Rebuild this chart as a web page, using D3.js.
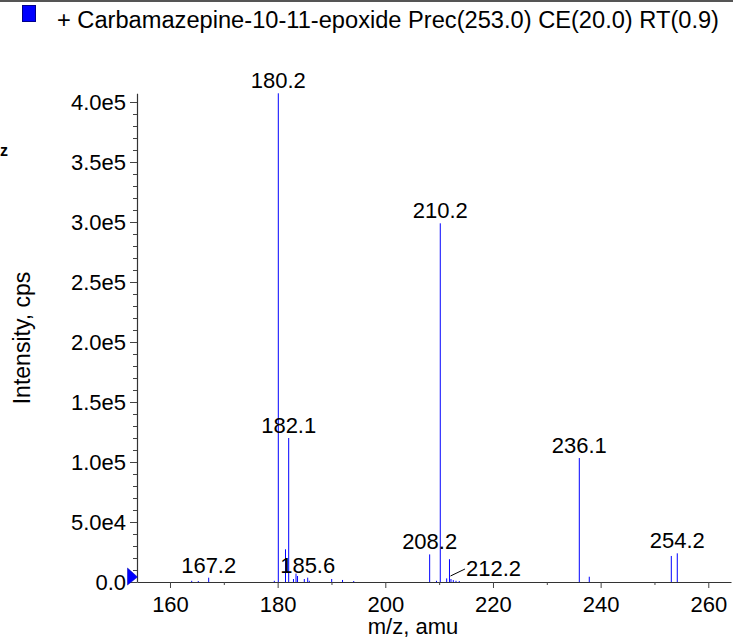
<!DOCTYPE html>
<html>
<head>
<meta charset="utf-8">
<script src="https://cdn.jsdelivr.net/npm/d3@7"></script>
<style>
  html, body { margin: 0; padding: 0; background: #fff; }
  text { font-family: "Liberation Sans", Arial, Helvetica, sans-serif; }
</style>
</head>
<body>
<script>
// ---- data ----
const titleText = "+ Carbamazepine-10-11-epoxide Prec(253.0) CE(20.0) RT(0.9)";
const xLabelText = "m/z, amu";
const yLabelText = "Intensity, cps";

const peakMz = [164.03, 165.26, 167.19, 179.38, 180.12, 181.46, 182.05, 182.94, 183.41, 183.69,
  184.95, 185.58, 185.88, 190.04, 192.05, 194.13, 208.24, 209.51, 210.21, 211.40,
  211.92, 212.20, 212.63, 213.13, 213.74, 236.04, 237.89, 253.13, 254.24];
const peakIntensity = [1000, 800, 3600, 1000, 407250, 27250, 120000, 2500, 7000, 5000,
  2500, 3600, 1000, 2500, 1700, 800, 23000, 1000, 298900, 3000,
  19000, 2500, 1600, 1000, 800, 103300, 4400, 21700, 23900];

const labelText = ["180.2", "210.2", "182.1", "236.1", "208.2", "254.2", "185.6", "167.2"];
const labelMz = [180.12, 210.21, 182.05, 236.04, 208.24, 254.24, 185.58, 167.19];
const leaderLabelText = "212.2";
const leaderLabelMz = 212.20;

const xTickValues = [160, 180, 200, 220, 240, 260];
const xTickLabels = ["160", "180", "200", "220", "240", "260"];
const xMinorTicks = [170, 190, 210, 230, 250];
const yTickValues = [0, 50000, 100000, 150000, 200000, 250000, 300000, 350000, 400000];
const yTickLabels = ["0.0", "5.0e4", "1.0e5", "1.5e5", "2.0e5", "2.5e5", "3.0e5", "3.5e5", "4.0e5"];
const yMinorTicks = d3.range(10000, 400001, 10000).filter(v => v % 50000 !== 0);

// ---- layout ----
const W = 733, H = 639;
const plot = { left: 137, right: 731, top: 93.3, bottom: 582 };
const FS = 22;

const svg = d3.select("body").append("svg").attr("width", W).attr("height", H);

const x = d3.scaleLinear().domain([153.87, 264.22]).range([plot.left, plot.right]);
const y = d3.scaleLinear().domain([0, d3.max(peakIntensity)]).range([plot.bottom, plot.top]);

// top border line
svg.append("line").attr("x1", 0).attr("x2", W).attr("y1", 1).attr("y2", 1)
  .attr("stroke", "#555").attr("stroke-width", 2);

// legend
svg.append("rect").attr("x", 22.5).attr("y", 5.5).attr("width", 13).attr("height", 16)
  .attr("fill", "#0000ff").attr("stroke", "#00008a").attr("stroke-width", 1);
svg.append("text").attr("x", 57).attr("y", 28).attr("font-size", 23.5).attr("fill", "#000")
  .attr("textLength", 662).attr("lengthAdjust", "spacingAndGlyphs")
  .text(titleText);

// stray glyph at left edge
svg.append("text").attr("x", 0).attr("y", 156).attr("font-size", 16).attr("font-weight", "bold")
  .attr("fill", "#000").text("z");

// peaks
svg.append("g").selectAll("line").data(peakMz).join("line")
  .attr("x1", (d) => x(d)).attr("x2", (d) => x(d))
  .attr("y1", y(0)).attr("y2", (d, i) => y(peakIntensity[i]))
  .attr("stroke", "#0000ff").attr("stroke-width", 1);

// axes
const axisColor = "#333";
svg.append("g").attr("transform", `translate(${plot.left},0)`)
  .call(d3.axisLeft(y).tickValues(yTickValues).tickFormat((d, i) => yTickLabels[i])
    .tickSize(7).tickPadding(4).tickSizeOuter(0));
svg.append("g").attr("transform", `translate(${plot.left},0)`)
  .call(d3.axisLeft(y).tickValues(yMinorTicks).tickFormat("").tickSize(4).tickSizeOuter(0))
  .call(g => g.select(".domain").remove());

svg.append("g").attr("transform", `translate(0,${plot.bottom})`)
  .call(d3.axisBottom(x).tickValues(xTickValues).tickFormat((d, i) => xTickLabels[i])
    .tickSize(6).tickPadding(8).tickSizeOuter(0));
svg.append("g").attr("transform", `translate(0,${plot.bottom})`)
  .call(d3.axisBottom(x).tickValues(xMinorTicks).tickFormat("").tickSize(3).tickSizeOuter(0))
  .call(g => g.select(".domain").remove());

svg.selectAll(".tick text").attr("font-size", FS).attr("fill", "#000")
  .attr("font-family", '"Liberation Sans", Arial, sans-serif');
svg.selectAll(".tick line").attr("stroke", "#444");
svg.selectAll(".domain").attr("stroke", axisColor).attr("stroke-width", 1.2);

// baseline triangle marker
svg.append("path")
  .attr("d", `M${plot.left - 9.5},${y(0) - 14} L${plot.left - 9.5},${y(0) + 3} L${plot.left + 0.5},${y(0) - 5} Z`)
  .attr("fill", "#0000ff").attr("stroke", "#0000aa").attr("stroke-width", 0.5);

// peak labels
function intensityAt(mz) {
  const i = d3.minIndex(peakMz, (m) => Math.abs(m - mz));
  return peakIntensity[i];
}
svg.append("g").selectAll("text").data(labelText).join("text")
  .attr("x", (d, i) => x(labelMz[i]))
  .attr("y", (d, i) => y(intensityAt(labelMz[i])) - 5)
  .attr("text-anchor", "middle").attr("font-size", FS).attr("fill", "#000")
  .text((d) => d);

// leader label
const lx = x(leaderLabelMz), ly = y(intensityAt(leaderLabelMz));
svg.append("line").attr("x1", lx - 0.5).attr("y1", ly - 3).attr("x2", lx + 14).attr("y2", ly - 10)
  .attr("stroke", "#000").attr("stroke-width", 1);
svg.append("text").attr("x", lx + 15).attr("y", ly - 3.5).attr("font-size", FS).attr("fill", "#000")
  .text(leaderLabelText);

// axis titles
svg.append("text").attr("x", 413).attr("y", 634).attr("text-anchor", "middle")
  .attr("font-size", FS).attr("fill", "#000").text(xLabelText);
svg.append("text").attr("transform", `translate(30,338) rotate(-90)`).attr("text-anchor", "middle")
  .attr("font-size", 23).attr("fill", "#000").text(yLabelText);
</script>
</body>
</html>
